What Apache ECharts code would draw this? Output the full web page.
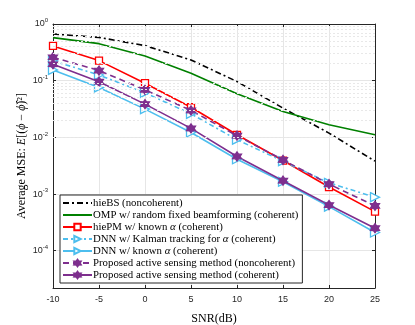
<!DOCTYPE html>
<html>
<head>
<meta charset="utf-8">
<script src="https://cdn.jsdelivr.net/npm/echarts@6/dist/echarts.min.js"></script>
<style>
  html, body { margin: 0; padding: 0; background: #fff; }
  #chart { width: 415px; height: 325px; }
</style>
</head>
<body>
<div id="chart"></div>
<script>
// SNR points (dB)
const snr = [-10, -5, 0, 5, 10, 15, 20, 25]

// average MSE
const hieBS = [0.667, 0.58, 0.416, 0.232, 0.0966, 0.0328, 0.0119, 0.0038]
const omp = [0.575, 0.45, 0.273, 0.135, 0.0587, 0.0286, 0.0167, 0.0111]
const hiePM = [0.41, 0.226, 0.0904, 0.034, 0.0111, 0.0039, 0.00133, 0.00049]
const dnnKalman = [0.224, 0.126, 0.061, 0.026, 0.0091, 0.0038, 0.00157, 0.00088]
const dnnKnown = [0.155, 0.076, 0.0315, 0.0122, 0.0041, 0.00165, 0.0006, 0.00021]
const propNoncoh = [0.259, 0.151, 0.069, 0.0298, 0.0107, 0.004, 0.0015, 0.00062]
const propCoh = [0.195, 0.096, 0.0386, 0.0144, 0.0046, 0.00172, 0.00064, 0.00025]

const seriesNames = [
  'hieBS (noncoherent)',
  'OMP w/ random fixed beamforming (coherent)',
  'hiePM w/ known {i|α} (coherent)',
  'DNN w/ Kalman tracking for {i|α} (coherent)',
  'DNN w/ known {i|α} (coherent)',
  'Proposed active sensing method (noncoherent)',
  'Proposed active sensing method (coherent)'
]

// y range and the minor grid values of the log axis
const yMin = 2.2e-5
const yMax = 1
const minorGrid = []
for (let e = -5; e < 0; e++) {
  for (let m = 2; m <= 9; m++) {
    const v = m * Math.pow(10, e)
    if (v > yMin && v < yMax) minorGrid.push(+v.toPrecision(3))
  }
}

const pair = arr => snr.map((s, i) => [s, arr[i]])

function hexagram () {
  let pts = []
  for (let i = 0; i < 12; i++) {
    let r = i % 2 ? 0.6 : 1
    let a = Math.PI / 2 + i * Math.PI / 6
    pts.push((50 + 50 * r * Math.cos(a)).toFixed(1) + ',' + (50 - 50 * r * Math.sin(a)).toFixed(1))
  }
  return 'path://M' + pts.join(' L') + ' Z'
}
const hexSym = hexagram()
const triSym = 'path://M0,0 L10,5 L0,10 Z'

const blue = '#4DBEEE'
const purple = '#7E2F8E'
const axisColor = '#262626'
const serif = 'Liberation Serif'

function lineSeries (name, arr, color, type, symbol, size, hollow) {
  let s = {
    name: name,
    type: 'line',
    data: pair(arr),
    symbol: symbol || 'circle',
    symbolSize: size || 0,
    showSymbol: !!symbol,
    xAxisIndex: 0,
    yAxisIndex: 0,
    lineStyle: { color: color, width: 1.6, type: type },
    itemStyle: {
      color: hollow ? '#fff' : color,
      borderColor: color,
      borderWidth: 1.3
    },
    emphasis: { disabled: true },
    animation: false
  }
  if (!symbol) {
    // no marker: keep the legend icon a bare line
    s.itemStyle = { color: 'rgba(0,0,0,0)', borderColor: 'rgba(0,0,0,0)', borderWidth: 0 }
  }
  return s
}

const series = [
  lineSeries(seriesNames[0], hieBS, '#000', [6, 3, 2, 3]),
  lineSeries(seriesNames[1], omp, '#008000', 'solid'),
  lineSeries(seriesNames[2], hiePM, '#ff0000', 'solid', 'rect', 7, true),
  lineSeries(seriesNames[3], dnnKalman, blue, [5, 3, 2, 3], triSym, 9, true),
  lineSeries(seriesNames[4], dnnKnown, blue, 'solid', triSym, 9, true),
  lineSeries(seriesNames[5], propNoncoh, purple, [6, 4], hexSym, 9, false),
  lineSeries(seriesNames[6], propCoh, purple, 'solid', hexSym, 9, false)
]

// minor grid on the log axis
series[0].markLine = {
  silent: true,
  symbol: 'none',
  label: { show: false },
  animation: false,
  lineStyle: { color: '#e8e8e8', type: [2, 2], width: 1 },
  data: minorGrid.map(v => ({ yAxis: v }))
}
series[0].z = 3

const chart = echarts.init(document.getElementById('chart'))
chart.setOption({
  animation: false,
  backgroundColor: '#fff',
  grid: { left: 53, right: 40, top: 24, bottom: 37, outerBoundsMode: 'none', containLabel: false },
  legend: {
    data: seriesNames,
    orient: 'vertical',
    left: 60,
    top: 195,
    padding: [2, 4, 2, 2],
    itemGap: 0,
    itemWidth: 29,
    itemHeight: 8,
    backgroundColor: '#fff',
    borderColor: axisColor,
    borderWidth: 1,
    borderRadius: 0,
    selectedMode: false,
    textStyle: {
      fontFamily: serif,
      fontSize: 10.8,
      color: '#000',
      lineHeight: 12,
      padding: [0, 0, 0, -4],
      rich: { i: { fontFamily: serif, fontStyle: 'italic', fontSize: 10.8, lineHeight: 12 } }
    }
  },
  xAxis: [
    {
      type: 'value',
      min: -10,
      max: 25,
      interval: 5,
      name: 'SNR(dB)',
      nameLocation: 'middle',
      nameGap: 25,
      nameMoveOverlap: false,
      nameTextStyle: { fontFamily: serif, fontSize: 12, color: '#000' },
      axisLine: { onZero: false, lineStyle: { color: axisColor, width: 1 } },
      axisTick: { inside: true, length: 3, lineStyle: { color: axisColor } },
      axisLabel: { fontFamily: 'Liberation Sans', fontSize: 9, color: axisColor, margin: 7 },
      splitLine: { show: true, lineStyle: { color: '#e6e6e6', width: 1 } }
    },
    {
      type: 'value',
      position: 'top',
      min: -10,
      max: 25,
      interval: 5,
      axisLine: { show: true, onZero: false, lineStyle: { color: axisColor, width: 1 } },
      axisTick: { inside: true, length: 3, lineStyle: { color: axisColor } },
      axisLabel: { show: false },
      splitLine: { show: false }
    }
  ],
  yAxis: [
    {
      type: 'log',
      min: yMin,
      max: yMax,
      name: 'Average MSE: {i|E}[({i|ϕ} − {i|ϕ̂})²]',
      nameLocation: 'middle',
      nameGap: 25,
      nameMoveOverlap: false,
      nameTextStyle: {
        fontFamily: serif, fontSize: 12, color: '#000',
        rich: { i: { fontFamily: serif, fontStyle: 'italic', fontSize: 12 } }
      },
      axisLine: { show: true, onZero: false, lineStyle: { color: axisColor, width: 1 } },
      axisTick: { inside: true, length: 3, lineStyle: { color: axisColor } },
      axisLabel: {
        margin: 5,
        color: axisColor,
        formatter: v => {
          const e = Math.log10(v)
          if (Math.abs(e - Math.round(e)) > 1e-6) return ''
          const ex = Math.round(e)
          return '{b|10}{s|' + (ex === 0 ? '0' : '-' + Math.abs(ex)) + '}'
        },
        rich: {
          b: { fontFamily: 'Liberation Sans', fontSize: 9, color: axisColor },
          s: { fontFamily: 'Liberation Sans', fontSize: 6, color: axisColor, padding: [0, 0, 7, 0] }
        }
      },
      splitLine: { show: true, lineStyle: { color: '#e6e6e6', width: 1 } }
    },
    {
      type: 'log',
      position: 'right',
      min: yMin,
      max: yMax,
      axisLine: { show: true, onZero: false, lineStyle: { color: axisColor, width: 1 } },
      axisTick: { inside: true, length: 3, lineStyle: { color: axisColor } },
      axisLabel: { show: false },
      splitLine: { show: false }
    }
  ],
  series: series
})
window.addEventListener('resize', () => {
  chart.resize()
})
</script>
</body>
</html>
